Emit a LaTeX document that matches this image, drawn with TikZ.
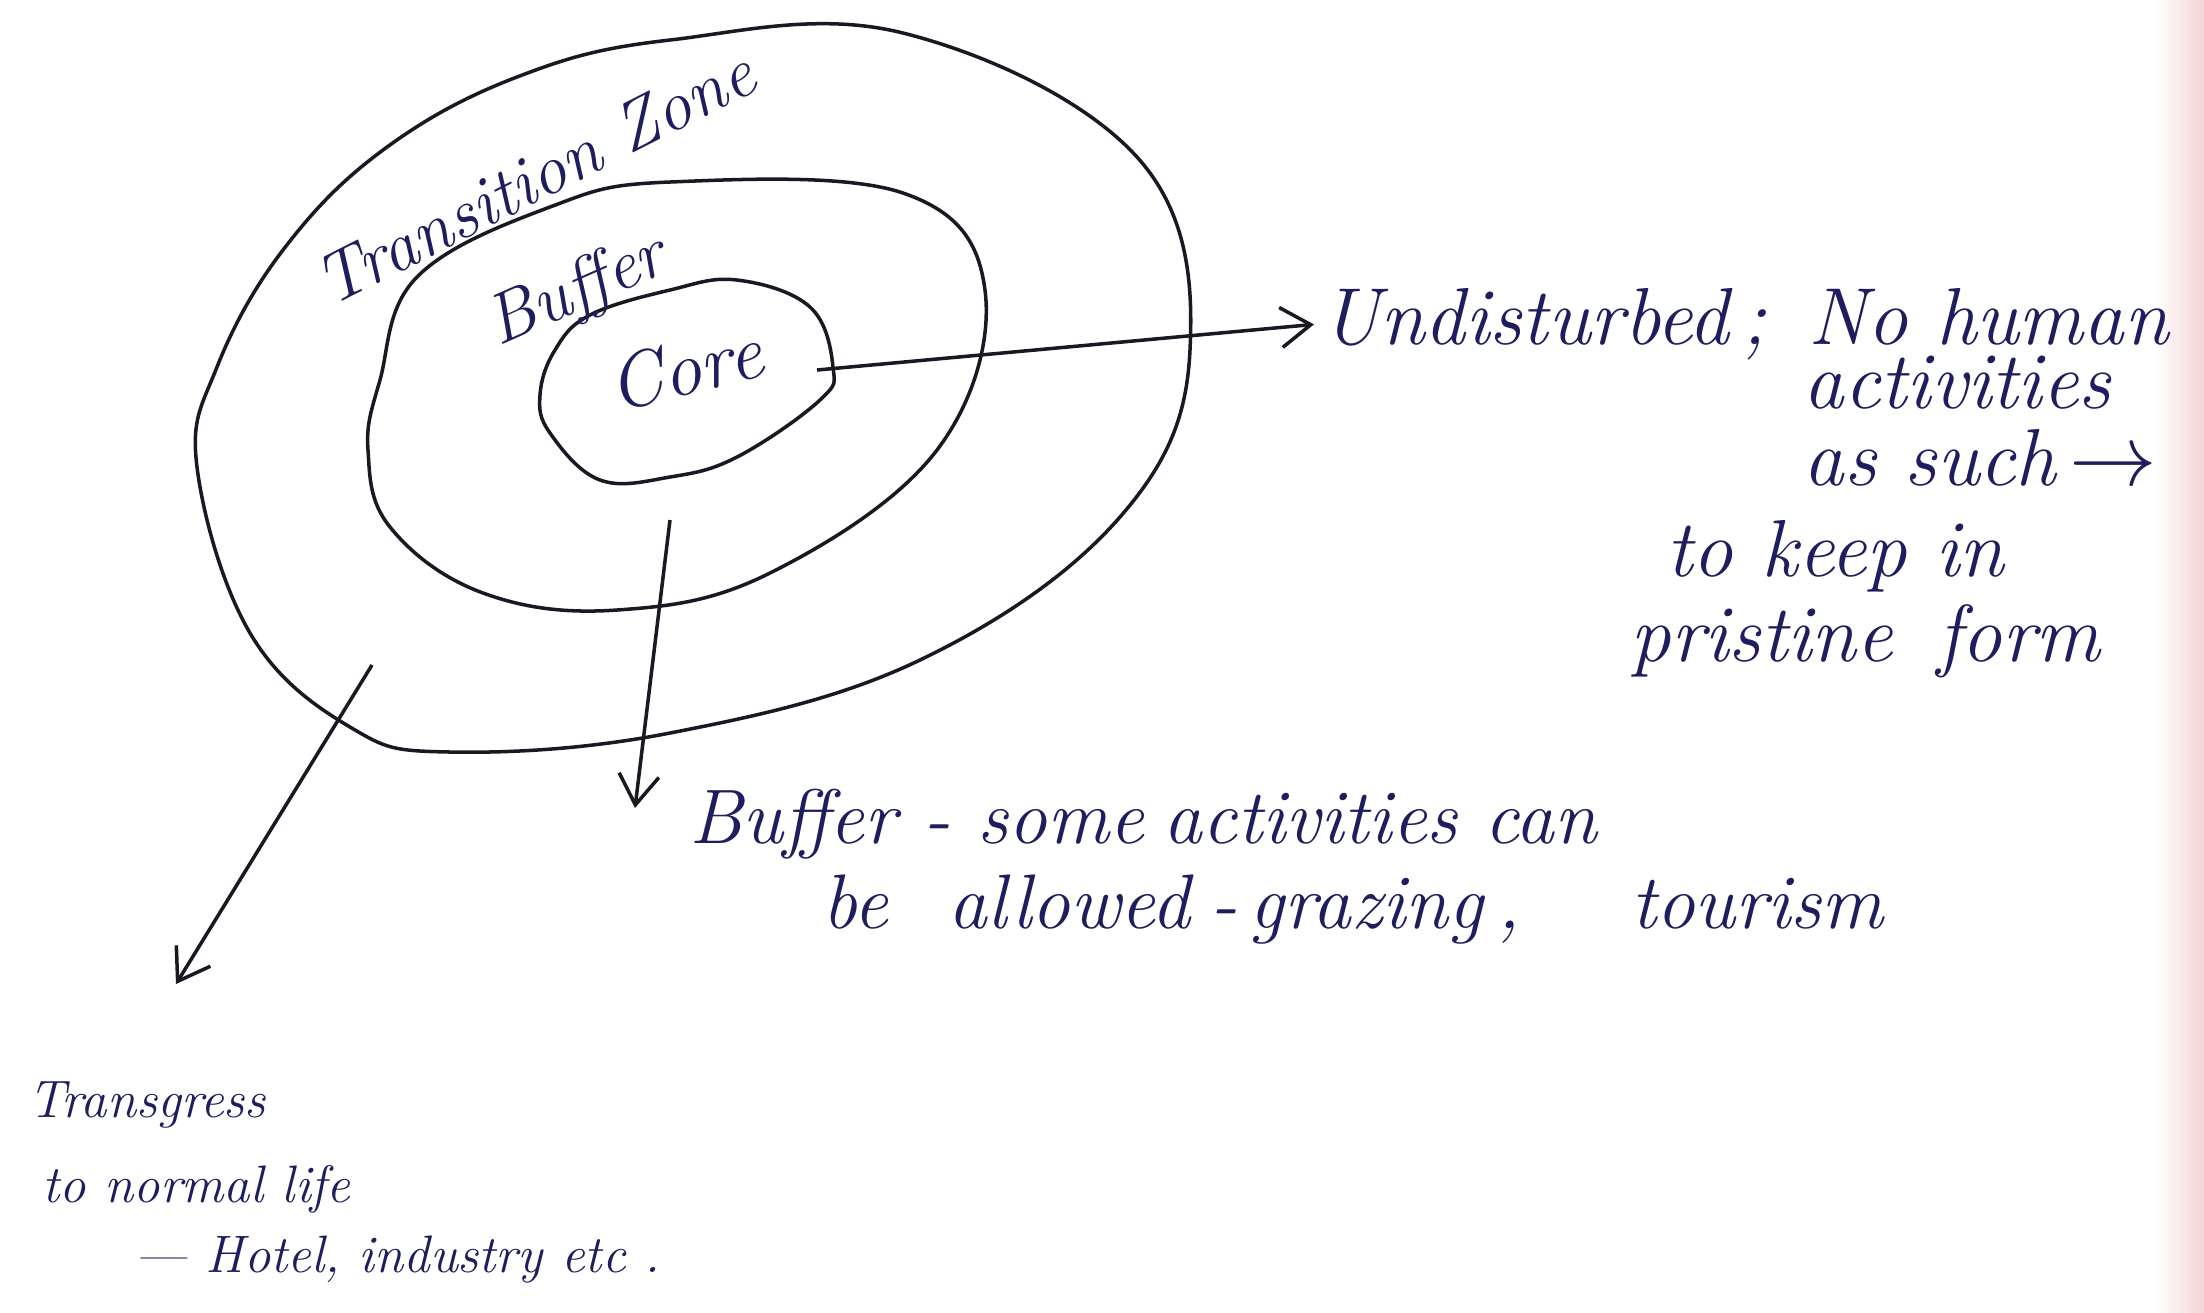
\documentclass[tikz,border=0pt]{standalone}
\usepackage{tikz}
\usetikzlibrary{arrows.meta, positioning}
\definecolor{ink}{RGB}{30,30,95}
\definecolor{pencil}{RGB}{25,25,35}
\definecolor{pagepink}{RGB}{245,212,212}

\tikzset{
  note/.style={text=ink, font=\fontsize{22}{26}\selectfont\itshape, inner sep=0pt, anchor=base west},
  big note/.style={note, font=\fontsize{23}{27}\selectfont\itshape},
  small note/.style={note, font=\fontsize{15}{18}\selectfont\itshape},
  zone/.style={pencil, line width=1pt},
  pointer/.style={pencil, line width=1pt, -{Straight Barb[length=3mm, width=4mm]}},
}

\begin{document}
\begin{tikzpicture}
  \useasboundingbox (0,0) rectangle (22.04,-13.12);
  \shade[left color=white, right color=pagepink] (21.55,0) rectangle (22.04,-13.12);

  % the three zones
  \draw[zone] plot[smooth cycle, tension=0.65] coordinates {(6.70,-0.40) (9.03,-0.33) (11.37,-1.57) (11.90,-3.50) (11.20,-5.17) (9.20,-6.60) (6.70,-7.33) (4.50,-7.52) (3.50,-7.27) (2.50,-6.33) (1.97,-4.67) (2.17,-3.67) (2.83,-2.50) (3.83,-1.50) (5.17,-0.77)};
  \draw[zone] plot[smooth cycle, tension=0.65] coordinates {(6.70,-1.82) (9.03,-1.93) (9.85,-2.90) (9.37,-4.50) (7.70,-5.73) (6.17,-6.10) (4.83,-5.93) (3.90,-5.27) (3.68,-4.50) (3.80,-3.80) (4.17,-2.77) (5.50,-2.07)};
  \draw[zone] plot[smooth cycle, tension=0.65] coordinates {(7.37,-2.80) (8.10,-3.07) (8.33,-3.67) (8.20,-4.00) (7.37,-4.57) (6.70,-4.77) (6.00,-4.80) (5.50,-4.33) (5.40,-3.95) (5.55,-3.50) (5.90,-3.15) (6.70,-2.90)};

  \node[note, font=\fontsize{20}{24}\selectfont\itshape, rotate=27] (transition) at (3.30,-3.08) {Transition Zone};
  \node[note, font=\fontsize{20}{24}\selectfont\itshape, rotate=24] (bufferlbl) at (4.98,-3.47) {Buffer};
  \node[note, rotate=14] (corelbl) at (6.15,-4.13) {Core};

  % notes
  \node[big note] (undist) at (13.21,-3.44) {Undisturbed\,; \,No human};
  \node[big note] (act) at (18.03,-4.08) {activities};
  \node[big note] (such) at (18.03,-4.85) {as such\,$\rightarrow$};
  \node[big note] (keep) at (16.66,-5.76) {to keep in};
  \node[big note] (pristine) at (16.30,-6.61) {pristine\hspace{0.45cm}form};

  \node[note] (buffer1) at (6.89,-8.43) {Buffer - some\hspace{0.2cm}activities can};
  \node[note] (buffer2) at (8.22,-9.28) {be\hspace{0.6cm}allowed\hspace{0.2cm}-\,grazing\hspace{0.15cm},\hspace{1.1cm}tourism};

  \node[small note] (trans1) at (0.28,-11.17) {Transgress};
  \node[small note] (trans2) at (0.42,-12.02) {to normal life};
  \node[small note] (trans3) at (1.34,-12.72) {--- Hotel, industry etc .};

  % arrows out of the zones
  \coordinate (coreout) at (8.17,-3.70);
  \coordinate (bufferout) at (6.70,-5.20);
  \coordinate (bufferend) at (6.35,-8.08);
  \coordinate (transout) at (3.72,-6.65);
  \coordinate (transend) at (1.76,-9.84);
  \draw[pointer, shorten >=2pt] (coreout) -- (undist.west);
  \draw[pointer] (bufferout) -- (bufferend);
  \draw[pointer] (transout) -- (transend);
\end{tikzpicture}
\end{document}
